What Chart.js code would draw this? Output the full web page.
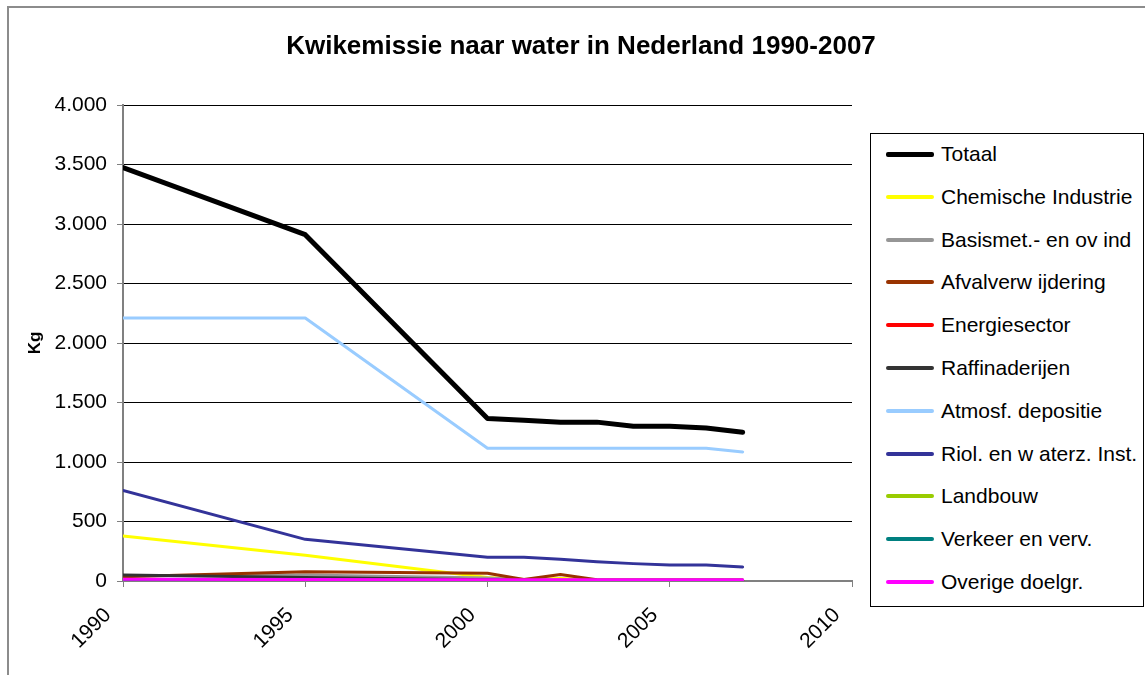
<!DOCTYPE html>
<html>
<head>
<meta charset="utf-8">
<script src="https://cdn.jsdelivr.net/npm/chart.js@4"></script>
<style>
    body { margin: 0; background: #fff; overflow: hidden; width: 1145px; height: 675px; position: relative; font-family: "Liberation Sans", Arial, sans-serif; }
    #frame { position: absolute; left: 7px; top: 6px; width: 1200px; height: 700px; border: 2px solid #8c8c8c; }
    #wrap { position: absolute; left: 8px; top: 7px; width: 1146px; height: 668px; }
    #title { position: absolute; left: 281px; width: 600px; top: 30px; text-align: center; font-size: 26px; line-height: 30px; font-weight: bold; color: #000; white-space: nowrap; }
    #legend { position: absolute; left: 870px; top: 133px; width: 272px; height: 472px; border: 1px solid #000; background: #fff; }
    .item { position: absolute; left: 0; height: 24px; width: 272px; }
    .swatch { position: absolute; left: 15px; width: 48px; border-radius: 2px; }
    .label { position: absolute; left: 70px; top: 0; font-size: 21px; line-height: 24px; color: #000; white-space: nowrap; }
</style>
</head>
<body>
<div id="frame"></div>
<div id="wrap"><canvas id="chart"></canvas></div>
<div id="title">Kwikemissie naar water in Nederland 1990-2007</div>
<div id="legend"></div>
<script>
// Years on the x axis
const years = [1990, 1995, 2000, 2001, 2002, 2003, 2004, 2005, 2006, 2007];

// Emissions in kg per source
const totaal = [3475, 2910, 1365, 1350, 1335, 1335, 1300, 1300, 1285, 1250];
const chemische = [378, 216, 30, 12, 20, 10, 8, 8, 8, 8];
const basismet = [45, 50, 25, 10, 10, 8, 8, 8, 8, 8];
const afval = [35, 78, 65, 12, 55, 10, 8, 8, 8, 8];
const energie = [5, 5, 3, 3, 3, 3, 3, 3, 3, 3];
const raffinaderijen = [50, 30, 10, 5, 5, 5, 5, 5, 5, 5];
const atmosf = [2210, 2210, 1115, 1115, 1115, 1115, 1115, 1115, 1115, 1085];
const riol = [760, 350, 200, 200, 182, 162, 146, 134, 134, 118];
const landbouw = [5, 5, 4, 4, 4, 4, 4, 4, 4, 4];
const verkeer = [5, 5, 4, 4, 4, 4, 4, 4, 4, 4];
const overige = [15, 12, 10, 10, 10, 10, 10, 10, 10, 10];

const seriesNames = ["Totaal", "Chemische Industrie", "Basismet.- en ov ind", "Afvalverw ijdering",
    "Energiesector", "Raffinaderijen", "Atmosf. depositie", "Riol. en w aterz. Inst.",
    "Landbouw", "Verkeer en verv.", "Overige doelgr."];
const seriesValues = [totaal, chemische, basismet, afval, energie, raffinaderijen, atmosf, riol, landbouw, verkeer, overige];
const seriesColors = ["#000000", "#ffff00", "#969696", "#993300", "#ff0000", "#333333",
    "#99ccff", "#333399", "#99cc00", "#008080", "#ff00ff"];

const yTicks = [0, 500, 1000, 1500, 2000, 2500, 3000, 3500, 4000];

function fmt(v) {
    return String(v).replace(/\B(?=(\d{3})+(?!\d))/g, ".");
}

const datasets = seriesNames.map((name, i) => ({
    label: name,
    data: seriesValues[i].map((v, j) => ({ x: years[j], y: v })),
    borderColor: seriesColors[i],
    backgroundColor: seriesColors[i],
    borderWidth: i === 0 ? 5 : 3,
    pointRadius: 0,
    tension: 0,
    fill: false,
    borderJoinStyle: "round",
    borderCapStyle: "round",
    order: seriesNames.length - i
}));

new Chart(document.getElementById("chart"), {
    type: "line",
    data: { datasets },
    options: {
        responsive: true,
        maintainAspectRatio: false,
        animation: false,
        layout: { padding: { left: 0, right: 302, top: 98, bottom: 0 } },
        plugins: {
            legend: { display: false },
            tooltip: { enabled: false },
            title: { display: false }
        },
        scales: {
            x: {
                type: "linear",
                min: 1990,
                max: 2010,
                ticks: {
                    stepSize: 5,
                    minRotation: 45,
                    maxRotation: 45,
                    color: "#000",
                    font: { family: "Liberation Sans", size: 21 },
                    padding: 16,
                    labelOffset: -15,
                    callback: v => String(v)
                },
                grid: { drawOnChartArea: false, drawTicks: true, tickLength: 6, tickColor: "#808080" },
                border: { color: "#808080", width: 2 },
                afterFit: s => { s.height = 94; }
            },
            y: {
                min: 0,
                max: 4000,
                afterBuildTicks: s => { s.ticks = yTicks.map(v => ({ value: v })); },
                ticks: {
                    color: "#000",
                    font: { family: "Liberation Sans", size: 21 },
                    padding: 10,
                    callback: v => fmt(v)
                },
                grid: {
                    color: c => (c.tick && c.tick.value === 0) ? "#808080" : "#000",
                    lineWidth: 1,
                    tickLength: 6,
                    tickColor: "#808080"
                },
                border: { color: "#808080", width: 2 },
                title: {
                    display: true,
                    text: "Kg",
                    color: "#000",
                    font: { family: "Liberation Sans", size: 17, weight: "bold" },
                    padding: { top: 17, bottom: 0 }
                },
                afterFit: s => { s.width = 115; }
            }
        }
    }
});

// Legend box
const legendBox = document.getElementById("legend");
seriesNames.forEach((name, i) => {
    const item = document.createElement("div");
    item.className = "item";
    item.style.top = (20 + i * 42.8 - 12) + "px";
    const sw = document.createElement("div");
    sw.className = "swatch";
    const h = i === 0 ? 5 : 4;
    sw.style.height = h + "px";
    sw.style.top = (12 - h / 2) + "px";
    sw.style.background = seriesColors[i];
    const lb = document.createElement("div");
    lb.className = "label";
    lb.textContent = name;
    item.appendChild(sw);
    item.appendChild(lb);
    legendBox.appendChild(item);
});
</script>
</body>
</html>
